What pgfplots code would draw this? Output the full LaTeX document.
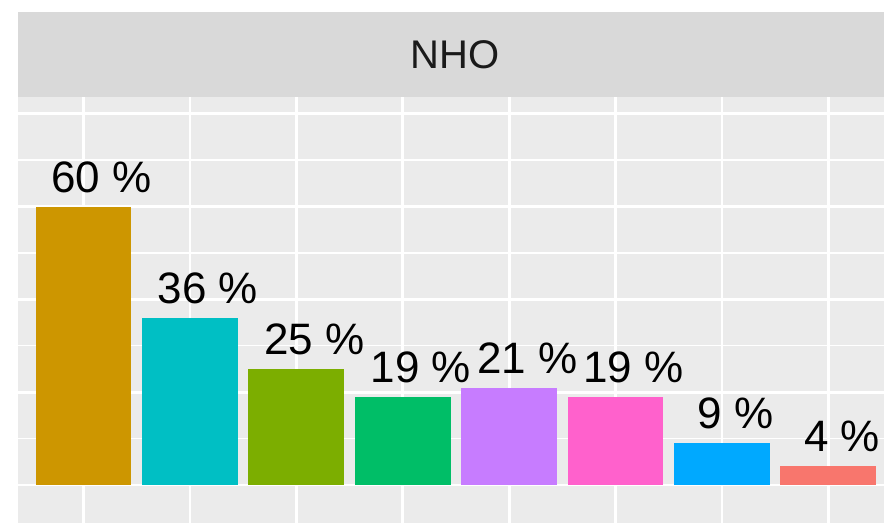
\documentclass[border=0pt]{standalone}
\usepackage{pgfplots}
\pgfplotsset{compat=1.18}
\usepackage{fontspec}
\setmainfont{Liberation Sans}
\definecolor{panel}{HTML}{EBEBEB}
\definecolor{strip}{HTML}{D9D9D9}
\definecolor{txt}{HTML}{1A1A1A}
\definecolor{cA}{HTML}{CD9600}
\definecolor{cB}{HTML}{00BFC4}
\definecolor{cC}{HTML}{7CAE00}
\definecolor{cD}{HTML}{00BE67}
\definecolor{cE}{HTML}{C77CFF}
\definecolor{cF}{HTML}{FF61CC}
\definecolor{cG}{HTML}{00A9FF}
\definecolor{cH}{HTML}{F8766D}
\newcommand\hj[1]{\setbox0\hbox{#1}\hbox to 0pt{\hskip-0.32\wd0\box0\hss}}
\begin{document}
\begin{tikzpicture}[x=1pt,y=1pt]
\useasboundingbox (0,0) rectangle (884,523);
\begin{axis}[
  at={(18pt,0pt)}, anchor=south west,
  scale only axis, width=866pt, height=426pt,
  xmin=0.384, xmax=8.523, ymin=-8.19, ymax=83.6,
  axis background/.style={fill=panel},
  axis line style={draw=none},
  xtick={1,...,8}, ytick={0,20,...,80}, minor ytick={10,30,50,70},
  xticklabels={}, yticklabels={},
  major tick length=0pt, minor tick length=0pt,
  xmajorgrids, ymajorgrids, yminorgrids,
  major grid style={white, line width=2.8pt},
  minor grid style={white, line width=1.4pt},
  ybar, bar width=0.9, bar shift=0pt,
  point meta=explicit symbolic,
  nodes near coords={\hj{\pgfplotspointmeta}},
  nodes near coords style={font=\fontsize{44}{44}\selectfont, text=black, anchor=base, inner sep=0pt, yshift=14.5pt},
  clip=false,
]
\addplot[fill=cA, draw=none] coordinates {(1,60) [60 \%]};
\addplot[fill=cB, draw=none] coordinates {(2,36) [36 \%]};
\addplot[fill=cC, draw=none] coordinates {(3,25) [25 \%]};
\addplot[fill=cD, draw=none] coordinates {(4,19) [19 \%]};
\addplot[fill=cE, draw=none] coordinates {(5,21) [21 \%]};
\addplot[fill=cF, draw=none] coordinates {(6,19) [19 \%]};
\addplot[fill=cG, draw=none] coordinates {(7,9) [9 \%]};
\addplot[fill=cH, draw=none] coordinates {(8,4) [4 \%]};
\end{axis}
\fill[strip] (18,426) rectangle (884,511);
\node[text=txt, font=\fontsize{40}{40}\selectfont, anchor=center] at (455,468.5) {NHO};
\end{tikzpicture}
\end{document}
